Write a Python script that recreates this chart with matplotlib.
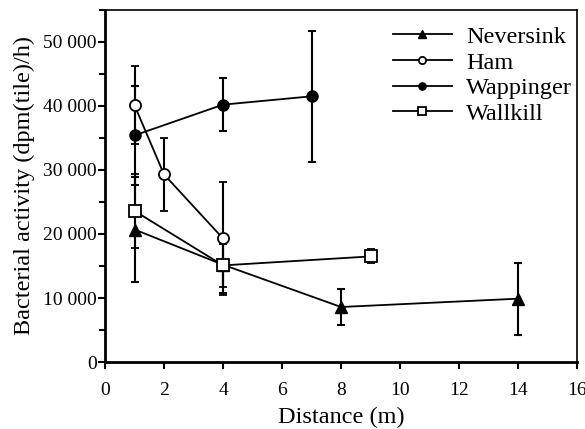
import matplotlib
matplotlib.use("Agg")
import matplotlib.pyplot as plt
from matplotlib.ticker import FuncFormatter, MultipleLocator

plt.rcParams['font.family'] = ['Liberation Serif', 'DejaVu Serif']

nev_x = [1, 4, 8, 14]
nev_y = [20700, 15200, 8600, 9900]
nev_e = [8200, 4400, 2800, 5600]

ham_x = [1, 2, 4]
ham_y = [40100, 29300, 19300]
ham_e = [6100, 5700, 8800]

wap_x = [1, 4, 7]
wap_y = [35400, 40200, 41500]
wap_e = [7700, 4100, 10200]

wal_x = [1, 4, 9]
wal_y = [23600, 15100, 16500]
wal_e = [5800, 3300, 1100]

fig = plt.figure(figsize=(5.85, 4.29), dpi=100)
ax = fig.add_axes([0.1795, 0.156, 0.807, 0.821])

common = dict(color='black', lw=1.3, capsize=3, capthick=1.5, elinewidth=1.5, ms=8)
ax.errorbar(nev_x, nev_y, yerr=nev_e, marker='^', mfc='black', mec='black', label='Neversink', **common)
ax.errorbar(ham_x, ham_y, yerr=ham_e, marker='o', mfc='white', mec='black', mew=1.3, label='Ham', **common)
ax.errorbar(wap_x, wap_y, yerr=wap_e, marker='o', mfc='black', mec='black', label='Wappinger', **common)
ax.errorbar(wal_x, wal_y, yerr=wal_e, marker='s', mfc='white', mec='black', mew=1.3, label='Wallkill', **common)

ax.set_xlim(0, 16)
ax.set_ylim(0, 55000)
ax.xaxis.set_major_locator(MultipleLocator(2))
ax.yaxis.set_major_locator(MultipleLocator(10000))
ax.yaxis.set_minor_locator(MultipleLocator(5000))
ax.yaxis.set_major_formatter(FuncFormatter(lambda v, p: '0' if v == 0 else f"{int(v):,}".replace(',', ' ')))

ax.tick_params(axis='both', which='major', direction='out', length=5, width=1.5, labelsize=14)
ax.tick_params(axis='y', which='major', pad=1)
ax.tick_params(axis='x', which='major', pad=9)
ax.tick_params(axis='y', which='minor', direction='out', length=4, width=1.5)
ax.tick_params(top=False, right=False)

ax.spines['left'].set_linewidth(2)
ax.spines['bottom'].set_linewidth(2)
ax.spines['top'].set_linewidth(1.2)
ax.spines['right'].set_linewidth(1.2)

ax.set_xlabel('Distance (m)', fontsize=17.5, labelpad=6)
ax.set_ylabel('Bacterial activity (dpm(tile)/h)', fontsize=17.5, labelpad=6)

handles, labels = ax.get_legend_handles_labels()
handles = [h[0] for h in handles]
leg = ax.legend(handles, labels, loc='upper right', frameon=False, fontsize=17.5,
                handlelength=2.4, markerscale=0.65, labelspacing=0.15,
                borderaxespad=0.0, handletextpad=0.6, bbox_to_anchor=(1.01, 0.982))

fig.savefig('out.png', dpi=100)
